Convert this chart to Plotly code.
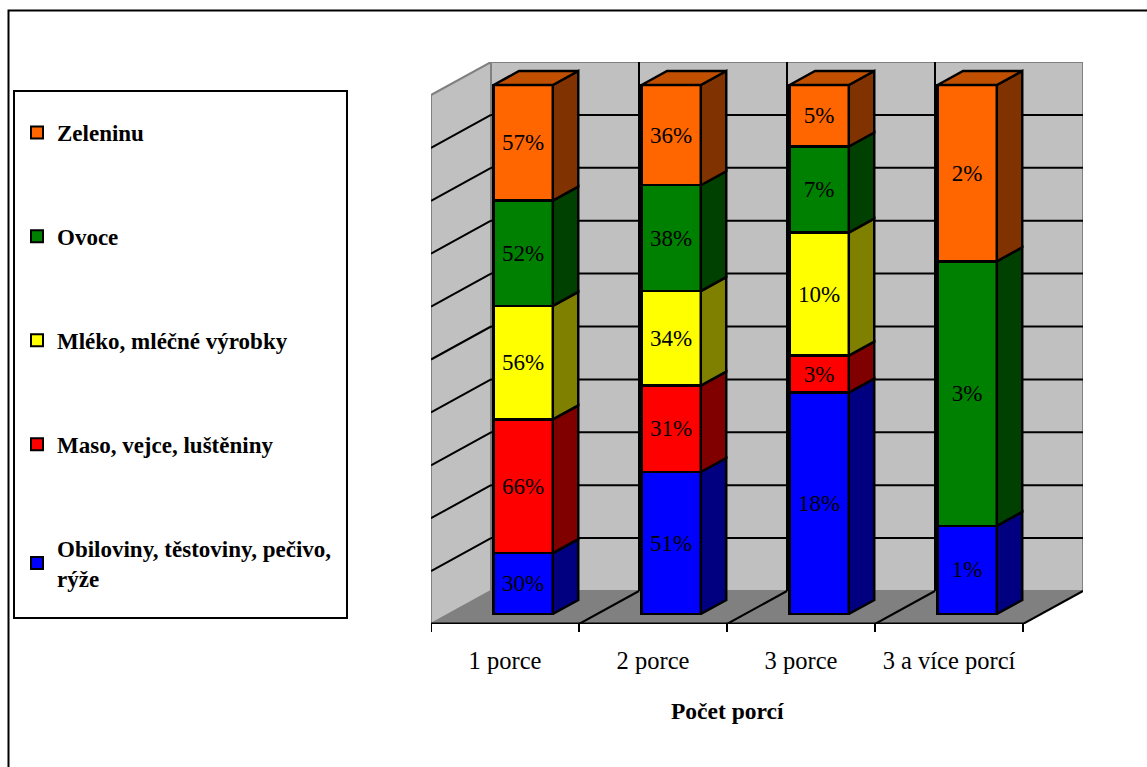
import plotly.graph_objects as go

categories = ["1 porce", "2 porce", "3 porce", "3 a více porcí"]
series_names = ["Obiloviny, těstoviny, pečivo,<br>rýže", "Maso, vejce, luštěniny",
                "Mléko, mléčné výrobky", "Ovoce", "Zeleninu"]
obiloviny = [30, 51, 18, 1]
maso = [66, 31, 3, 0]
mleko = [56, 34, 10, 0]
ovoce = [52, 38, 7, 3]
zeleninu = [57, 36, 5, 2]
series_values = [obiloviny, maso, mleko, ovoce, zeleninu]
front_colors = ["#0000FF", "#FF0000", "#FFFF00", "#008000", "#FF6600"]
side_colors = ["#000080", "#800000", "#808000", "#004000", "#803300"]
top_color = "#C05000"
grid_ticks = [10, 20, 30, 40, 50, 60, 70, 80, 90]

W, H = 1147, 767
L, R, T, B = 431, 1083, 62, 624          # plot area in pixels
DX = 60 / 148                            # full floor depth in category units
DY = 33 / 5.29                           # full floor depth in percent units
Y0 = -10 / 5.29                          # height of the front floor edge
BAR_D0, BAR_D1 = 10 / 33, 24 / 33        # bar depth span
BAR_W = 0.4
FONT = "Liberation Serif"


def proj(x, y, d):
    """Oblique projection: category x, percent y, depth d (0 front .. 1 back)."""
    return x + DX * d, y + Y0 + DY * d


def px(x):
    return (x - L) / (R - L)


def py(y):
    return (B - y) / (B - T)


def poly(points):
    a = [proj(*p) for p in points]
    return "M " + " L ".join(f"{x},{y}" for x, y in a) + " Z"


fig = go.Figure()
shapes = []

# frame and legend box
shapes.append(dict(type="rect", xref="paper", yref="paper", x0=px(8.5), y0=py(10.5), x1=px(1300),
                   y1=py(900), line=dict(color="black", width=2), layer="below"))
shapes.append(dict(type="rect", xref="paper", yref="paper", x0=px(14), y0=py(91), x1=px(347),
                   y1=py(618), line=dict(color="black", width=2), fillcolor="white", layer="below"))

# walls and floor
xa, xb = -0.5, 3.5
wall_h = 100
shapes.append(dict(type="path", path=poly([(xa, 0, 1), (xb, 0, 1), (xb, wall_h, 1), (xa, wall_h, 1)]),
                   fillcolor="#C0C0C0", line=dict(color="#808080", width=2), layer="below"))
shapes.append(dict(type="path", path=poly([(xa, 0, 0), (xa, 0, 1), (xa, wall_h, 1), (xa, wall_h, 0)]),
                   fillcolor="#C0C0C0", line=dict(color="#808080", width=2), layer="below"))
shapes.append(dict(type="path", path=poly([(xa, 0, 0), (xb, 0, 0), (xb, 0, 1), (xa, 0, 1)]),
                   fillcolor="#808080", line=dict(color="#808080", width=1), layer="below"))


def seg(p, q, color="black", width=2):
    x0, y0 = proj(*p)
    x1, y1 = proj(*q)
    shapes.append(dict(type="line", x0=x0, y0=y0, x1=x1, y1=y1,
                       line=dict(color=color, width=width), layer="below"))


for g in grid_ticks:
    seg((xa, g, 0), (xa, g, 1))
    seg((xa, g, 1), (xb, g, 1))
for e in [0.5, 1.5, 2.5]:
    seg((e, 0, 1), (e, wall_h, 1))
    seg((e, 0, 0), (e, 0, 1))
seg((xb, 0, 0), (xb, 0, 1))
seg((xa, 0, 0), (xb, 0, 0), width=3)
for e in [-0.5, 0.5, 1.5, 2.5, 3.5]:
    shapes.append(dict(type="line", x0=e, x1=e, yref="paper", y0=0, y1=py(632),
                       line=dict(color="black", width=2), layer="below"))

# legend entries
for i in range(4, -1, -1):
    fig.add_trace(go.Scatter(x=[None], y=[None], mode="markers", name=series_names[i],
                             legendgroup=str(i),
                             marker=dict(symbol="square", size=12, color=front_colors[i],
                                         line=dict(color="black", width=2))))

# stacked bars: front faces
bar_x = [i + DX * BAR_D0 for i in range(len(categories))]
for i, vals in enumerate(series_values):
    fig.add_trace(go.Bar(x=bar_x, y=vals, width=BAR_W, name=series_names[i], legendgroup=str(i),
                         showlegend=False,
                         marker=dict(color=front_colors[i], line=dict(color="black", width=2.5)),
                         text=[f"{v}%" if v else "" for v in vals], textposition="inside",
                         insidetextanchor="middle", textangle=0, constraintext="none",
                         textfont=dict(family=FONT, size=23, color="black")))

# side and top faces from the normalised stack
totals = [sum(s[c] for s in series_values) for c in range(len(categories))]
cum = [0.0] * len(categories)
for i, vals in enumerate(series_values):
    sx, sy = [], []
    for c, v in enumerate(vals):
        if not v:
            continue
        lo = cum[c]
        hi = lo + 100 * v / totals[c]
        cum[c] = hi
        right = c + BAR_W / 2
        # the stack's values are measured on the bars' front plane
        for yy, d in [(lo, BAR_D0), (lo, BAR_D1), (hi, BAR_D1), (hi, BAR_D0), (lo, BAR_D0)]:
            X, Y = proj(right, yy - DY * BAR_D0 - Y0, d)
            sx.append(X)
            sy.append(Y)
        sx.append(None)
        sy.append(None)
    fig.add_trace(go.Scatter(x=sx, y=sy, mode="lines", fill="toself", fillcolor=side_colors[i],
                             line=dict(color="black", width=2.5), hoverinfo="skip", showlegend=False))
tx, ty = [], []
for c in range(len(categories)):
    a, b = c - BAR_W / 2, c + BAR_W / 2
    for xx, d in [(a, BAR_D0), (b, BAR_D0), (b, BAR_D1), (a, BAR_D1), (a, BAR_D0)]:
        X, Y = proj(xx, 100 - DY * BAR_D0 - Y0, d)
        tx.append(X)
        ty.append(Y)
    tx.append(None)
    ty.append(None)
fig.add_trace(go.Scatter(x=tx, y=ty, mode="lines", fill="toself", fillcolor=top_color,
                         line=dict(color="black", width=2.5), hoverinfo="skip", showlegend=False))

fig.update_layout(
    width=W, height=H, autosize=False, barmode="stack", barnorm="percent",
    margin=dict(l=L, r=W - R, t=T, b=H - B, pad=0),
    paper_bgcolor="white", plot_bgcolor="rgba(0,0,0,0)",
    font=dict(family=FONT, color="black"), shapes=shapes,
    xaxis=dict(range=[xa, xb + DX], tickmode="array", tickvals=list(range(4)), ticktext=categories,
               ticks="outside", ticklen=15, tickcolor="rgba(0,0,0,0)", showgrid=False, zeroline=False,
               showline=False, tickfont=dict(family=FONT, size=24.5)),
    yaxis=dict(range=[Y0, 100 + Y0 + DY], showgrid=False, zeroline=False, showline=False,
               showticklabels=False, ticks=""),
    legend=dict(x=px(17), y=py(111), xanchor="left", yanchor="top", bgcolor="rgba(0,0,0,0)",
                tracegroupgap=71, traceorder="grouped",
                font=dict(family=FONT, size=23, weight="bold", color="black")),
    annotations=[dict(text="<b>Počet porcí</b>", xref="x", yref="paper", x=1.5, y=py(711),
                      showarrow=False, font=dict(family=FONT, size=23.5), xanchor="center", yanchor="middle")],
)

fig.write_html("out.html", config=dict(displayModeBar=False),
               post_script="document.body.style.margin='0';")
